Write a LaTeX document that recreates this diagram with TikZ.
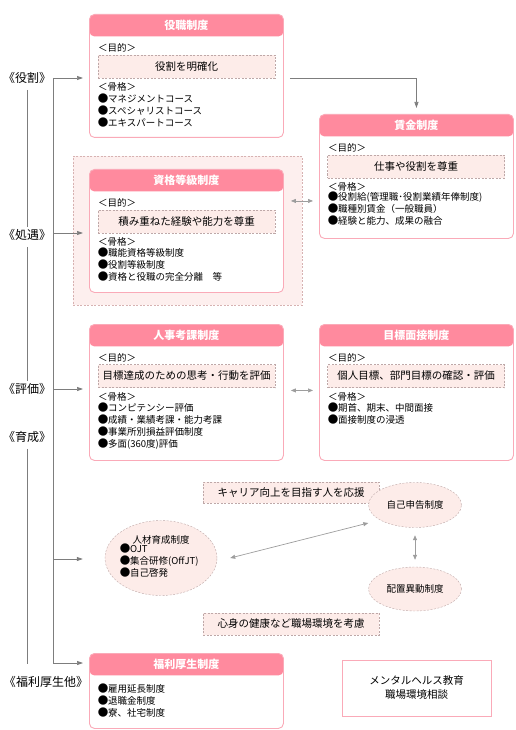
\documentclass[tikz,border=0pt]{standalone}
\usepackage{fontspec}
\setmainfont{Noto Sans CJK JP}
\usetikzlibrary{arrows.meta,shapes.geometric,positioning}
\definecolor{headpink}{RGB}{255,138,158}
\definecolor{framepink}{RGB}{250,170,184}
\definecolor{aimfill}{RGB}{253,236,233}
\definecolor{aimdash}{RGB}{190,168,168}
\definecolor{zonefill}{RGB}{253,239,238}
\definecolor{zonedash}{RGB}{215,178,178}
\definecolor{linegray}{RGB}{125,125,125}
\newcommand{\maru}{\makebox[10pt][c]{\fontsize{10.5}{12}\selectfont●}}
\tikzset{
  seido/.style={draw=framepink, line width=0.9pt, rounded corners=5pt, fill=white,
    anchor=north west, minimum width=194pt, inner sep=0pt,
    path picture={\fill[headpink] (path picture bounding box.north west)
      rectangle ([yshift=-22pt]path picture bounding box.north east);}},
  headtxt/.style={text=white, font=\fontsize{11}{13}\selectfont\bfseries},
  lbl/.style={anchor=west, inner sep=0pt, font=\fontsize{9.5}{11.5}\selectfont},
  items/.style={anchor=north west, inner sep=0pt, align=left, font=\fontsize{9.5}{11.7}\selectfont},
  aim/.style={draw=aimdash, dash pattern=on 2pt off 1.5pt, fill=aimfill, minimum width=177pt,
    minimum height=23pt, inner sep=0pt, font=\fontsize{10.5}{12}\selectfont},
  zone/.style={draw=zonedash, dash pattern=on 2pt off 1.5pt, fill=zonefill, anchor=north west},
  kikaku/.style={ellipse, draw=aimdash, dash pattern=on 2pt off 1.5pt, fill=aimfill,
    inner sep=0pt, font=\fontsize{9.5}{11.5}\selectfont},
  bunrui/.style={font=\fontsize{12}{14}\selectfont, inner sep=2pt},
  conn/.style={draw=linegray, line width=0.7pt},
  arr/.style={conn, -{Triangle[length=6pt,width=4pt]}},
  darr/.style={draw=linegray!75, line width=0.7pt,
    {Triangle[length=5pt,width=4pt]}-{Triangle[length=5pt,width=4pt]}},
}
\begin{document}
\begin{tikzpicture}[x=1pt,y=-1pt]
  \useasboundingbox (0,0) rectangle (515,730);
  % left labels
  \node[bunrui] (lyaku) at (27,78) {《役割》};
  \node[bunrui] (lshogu) at (27,235) {《処遇》};
  \node[bunrui] (lhyoka) at (27,389) {《評価》};
  \node[bunrui] (liku) at (27,437) {《育成》};
  \node[bunrui] (lfukuri) at (46,682) {《福利厚生他》};
  \draw[conn, shorten <=4pt] (lyaku) -- (lshogu);
  \draw[conn, shorten <=4pt] (lshogu) -- (lhyoka);
  \draw[conn, shorten <=4pt, shorten >=10pt] (liku) -- (liku |- lfukuri.north);

  % 役職制度
  \node[seido, minimum height=123pt] (yaku) at (89,14) {};
  \node[headtxt] at ([yshift=-11pt]yaku.north) {役職制度};
  \node[lbl] at (98,48) {＜目的＞};
  \node[aim] (yakuaim) at (186.5,66.5) {役割を明確化};
  \node[lbl] at (98,87) {＜骨格＞};
  \node[items] at (98,94) {\maru マネジメントコース\\\maru スペシャリストコース\\\maru エキスパートコース};

  % 賃金制度
  \node[seido, minimum height=124pt] (chingin) at (319,114) {};
  \node[headtxt] at ([yshift=-11pt]chingin.north) {賃金制度};
  \node[lbl] at (328,148) {＜目的＞};
  \node[aim] (chinginaim) at (416,166.5) {仕事や役割を尊重};
  \node[lbl] at (328,187) {＜骨格＞};
  \node[items] at (328,192) {\maru 役割給(管理職･役割業績年俸制度)\\\maru 職種別賃金（一般職員）\\\maru 経験と能力、成果の融合};

  % 資格等級制度
  \node[zone, minimum width=229pt, minimum height=149pt] (shikakuzone) at (73,156) {};
  \node[seido, minimum height=123pt] (shikaku) at (89,169) {};
  \node[headtxt] at ([yshift=-11pt]shikaku.north) {資格等級制度};
  \node[lbl] at (98,203) {＜目的＞};
  \node[aim] (shikakuaim) at (186.5,221.5) {積み重ねた経験や能力を尊重};
  \node[lbl] at (98,242) {＜骨格＞};
  \node[items] at (98,248) {\maru 職能資格等級制度\\\maru 役割等級制度\\\maru 資格と役職の完全分離　等};

  % 人事考課制度
  \node[seido, minimum height=136pt] (jinji) at (89,324) {};
  \node[headtxt] at ([yshift=-11pt]jinji.north) {人事考課制度};
  \node[lbl] at (98,358) {＜目的＞};
  \node[aim] (jinjiaim) at (186.5,376) {目標達成のための思考・行動を評価};
  \node[lbl] at (98,397) {＜骨格＞};
  \node[items] at (98,403) {\maru コンピテンシー評価\\\maru 成績・業績考課・能力考課\\\maru 事業所別損益評価制度\\\maru 多面(360度)評価};

  % 目標面接制度
  \node[seido, minimum height=136pt] (mokuhyo) at (319,324) {};
  \node[headtxt] at ([yshift=-11pt]mokuhyo.north) {目標面接制度};
  \node[lbl] at (328,358) {＜目的＞};
  \node[aim] (mokuhyoaim) at (416,376) {個人目標、部門目標の確認・評価};
  \node[lbl] at (328,397) {＜骨格＞};
  \node[items] at (328,403) {\maru 期首、期末、中間面接\\\maru 面接制度の浸透};

  % 育成
  \node[aim, minimum width=176pt, minimum height=21pt] (career) at (291,492.5) {キャリア向上を目指す人を応援};
  \node[aim, minimum width=176pt, minimum height=22pt] (kenko) at (291,624) {心身の健康など職場環境を考慮};
  \node[kikaku, minimum width=93pt, minimum height=45pt] (jiko) at (415,505) {自己申告制度};
  \node[kikaku, minimum width=93pt, minimum height=44pt] (haichi) at (415,589) {配置異動制度};
  \node[kikaku, minimum width=112pt, minimum height=75pt] (jinzai) at (161,558) {};
  \node[lbl, anchor=center] at (161,540) {人材育成制度};
  \node[items] at (120,544) {\maru OJT\\\maru 集合研修(OffJT)\\\maru 自己啓発};

  % 福利厚生制度
  \node[seido, minimum height=75pt] (fukuri) at (89,653) {};
  \node[headtxt] at ([yshift=-11pt]fukuri.north) {福利厚生制度};
  \node[items] at (98,684) {\maru 雇用延長制度\\\maru 退職金制度\\\maru 寮、社宅制度};
  \node[draw=framepink, line width=0.9pt, minimum width=149pt, minimum height=56pt,
    align=center, font=\fontsize{10.5}{14}\selectfont] (mental) at (416.5,688)
    {メンタルヘルス教育\\職場環境相談};

  % connectors
  \coordinate (s1) at (53,78);
  \coordinate (s2) at (53,233);
  \coordinate (s3) at (53,389);
  \coordinate (s4) at (53,559);
  \coordinate (s5) at (53,663);
  \draw[conn] (s1) -- (s5);
  \draw[arr, shorten >=6pt] (s1) -- (s1 -| yaku.west);
  \draw[arr, shorten >=6pt] (s2) -- (s2 -| shikaku.west);
  \draw[arr, shorten >=6pt] (s3) -- (s3 -| jinji.west);
  \draw[arr, shorten >=22pt] (s4) -- (s4 -| jinzai.west);
  \draw[arr, shorten >=6pt] (s5) -- (s5 -| fukuri.west);
  \draw[arr, shorten <=6pt, shorten >=6pt] (s1 -| yaku.east) -| (chingin.north);
  \draw[darr, shorten <=7pt, shorten >=6pt] ([yshift=30pt]shikaku.east) -- ([yshift=30pt]shikaku.east -| chingin.west);
  \draw[darr, shorten <=7pt, shorten >=6pt] ([yshift=2pt]jinji.east) -- ([yshift=2pt]mokuhyo.west);
  \draw[darr] ([xshift=13pt]jinzai.east) -- ([yshift=-18pt]jiko.west);
  \draw[darr, shorten <=7.5pt, shorten >=7pt] (jiko.south) -- (haichi.north);
\end{tikzpicture}
\end{document}
